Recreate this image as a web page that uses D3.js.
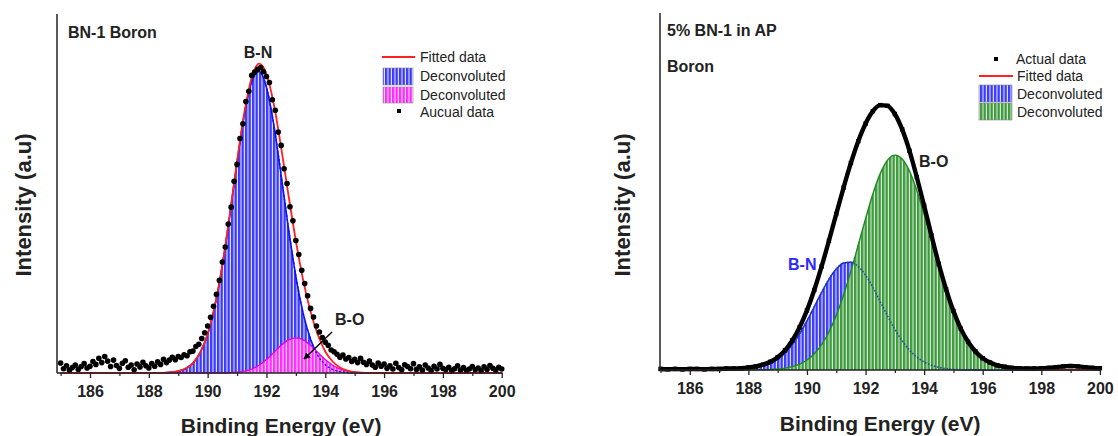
<!DOCTYPE html>
<html><head><meta charset="utf-8">
<script src="https://cdn.jsdelivr.net/npm/d3@7"></script>
<style>body{margin:0;background:#fff} svg{display:block} text{font-family:"Liberation Sans",Arial,sans-serif}</style>
</head><body><svg id="c" width="1118" height="436"></svg>
<script>
// ---------- shared axis ticks ----------
const majorTicks = [186,188,190,192,194,196,198,200];
const minorTicks = [185,187,189,191,193,195,197,199];

// ---------- LEFT panel: BN-1 Boron ----------
const leftDataStart = 185, leftDataStep = 0.1;
const leftActual = [
2.8,1.2,2.0,0.8,1.5,2.2,1.0,1.8,2.6,1.4,
1.9,3.2,2.4,4.1,2.9,4.6,3.3,1.8,3.6,2.1,
1.3,2.7,3.4,1.6,2.2,0.9,2.5,1.7,3.0,2.0,
1.4,2.6,1.9,3.1,2.4,3.8,2.9,3.6,4.4,3.7,
4.6,4.3,5.1,4.8,5.9,6.1,7.4,8.0,9.6,11.2,
13.1,15.5,18.6,21.9,25.8,30.9,35.1,41.5,46.2,53.4,
58.1,65.3,69.4,75.6,78.5,82.9,83.8,84.6,85.1,83.9,
82.6,80.9,76.1,73.2,67.1,63.4,56.9,52.8,46.3,42.4,
36.9,33.0,28.6,24.9,21.5,18.0,15.6,13.1,11.4,9.9,
8.6,7.7,6.4,5.9,5.2,4.4,5.0,3.9,4.3,3.2,
3.8,2.9,4.1,3.0,2.4,3.3,2.2,1.6,2.8,1.9,
2.5,1.3,2.0,1.1,2.7,1.5,0.9,2.3,1.8,1.2,
2.6,1.0,1.7,0.8,2.2,1.4,0.7,1.9,1.1,2.4,
1.3,0.9,1.6,0.6,1.2,2.0,0.8,1.5,0.7,1.1,
1.8,0.9,1.4,0.6,1.7,1.0,2.1,1.3,0.8,1.6,
1.1];
const leftCurveE = [185,188.5,188.75,189,189.25,189.5,189.75,190,190.25,190.5,190.75,191,191.25,191.5,191.75,192,192.25,192.5,192.75,193,193.25,193.5,193.75,194,194.25,194.5,194.75,195,195.25,195.5,200];
const leftBN = [0,0.06,0.19,0.50,1.23,2.77,5.73,10.8,18.9,30.0,43.8,58.7,72.1,81.2,84.0,79.6,69.2,55.1,40.3,27.0,16.6,9.4,4.85,2.30,1.0,0.40,0.15,0.05,0.01,0,0];
const leftBO = [0,0,0,0,0,0,0,0,0,0,0.07,0.21,0.51,1.12,2.17,3.74,5.70,7.70,9.23,9.8,9.23,7.70,5.70,3.74,2.17,1.12,0.51,0.21,0.07,0,0];
const leftFit = [0,0.06,0.19,0.50,1.23,2.77,5.73,10.8,18.9,30.0,43.9,58.9,72.6,82.3,86.2,83.3,74.9,62.8,49.5,36.8,25.8,17.1,10.6,6.0,3.2,1.5,0.66,0.26,0.08,0,0];
const leftLegend = ["Fitted data","Deconvoluted","Deconvoluted","Aucual data"];

// ---------- RIGHT panel: 5% BN-1 in AP ----------
const rightDataStart = 185, rightDataStep = 0.25;
const rightActual = [
0.3,0.2,0.3,0.2,0.3,0.3,0.2,0.3,0.3,0.4,
0.4,0.5,0.7,1.0,1.5,2.3,3.6,5.5,8.3,12.0,
16.7,22.4,29.0,36.2,43.7,51.1,58.0,64.1,69.0,72.5,
74.2,74.0,71.7,67.4,61.4,54.0,46.0,37.7,29.7,22.6,
16.5,11.6,7.9,5.2,3.3,2.1,1.3,0.9,0.6,0.5,
0.4,0.4,0.5,0.6,0.8,1.0,1.1,1.0,0.8,0.6,
0.5];
const rightCurveE = [185,187.5,187.75,188,188.25,188.5,188.75,189,189.25,189.5,189.75,190,190.25,190.5,190.75,191,191.25,191.5,191.75,192,192.25,192.5,192.75,193,193.25,193.5,193.75,194,194.25,194.5,194.75,195,195.25,195.5,195.75,196,196.25,196.5,196.75,197,197.25,197.5,200];
const rightBN = [0,0.07,0.16,0.31,0.59,1.08,1.86,3.06,4.79,7.15,10.17,13.76,17.73,21.75,25.42,28.28,29.96,30.2,29.0,26.56,23.14,19.19,15.16,11.40,8.17,5.57,3.61,2.24,1.32,0.74,0.39,0.20,0.09,0.04,0.02,0.01,0,0,0,0,0,0,0];
const rightBO = [0,0,0,0.01,0.03,0.06,0.13,0.26,0.51,0.94,1.66,2.81,4.57,7.13,10.66,15.3,21.0,27.7,35.0,42.4,49.3,55.0,58.8,60.2,59.1,55.7,50.3,43.6,36.2,28.8,22.0,16.1,11.3,7.63,4.92,3.05,1.81,1.03,0.56,0.29,0.15,0.07,0];
const rightFit = [0,0.07,0.16,0.32,0.62,1.14,1.99,3.32,5.30,8.09,11.83,16.57,22.30,28.88,36.08,43.58,50.96,57.9,64.0,68.96,72.44,74.19,73.96,71.6,67.27,61.27,53.91,45.84,37.52,29.54,22.39,16.3,11.39,7.67,4.94,3.06,1.81,1.03,0.56,0.29,0.15,0.07,0];
const rightLegend = ["Actual data","Fitted data","Deconvoluted","Deconvoluted"];

// ---------- drawing ----------
const FONT = '"Liberation Sans", Arial, sans-serif';
const svg = d3.select('#c');
const defs = svg.append('defs');
function hatch(id, bg, line) {
  const p = defs.append('pattern').attr('id', id).attr('patternUnits', 'userSpaceOnUse')
    .attr('width', 3.5).attr('height', 10);
  p.append('rect').attr('width', 3.5).attr('height', 10).attr('fill', bg);
  p.append('rect').attr('x', 2.4).attr('width', 1.1).attr('height', 10).attr('fill', line);
}
hatch('hBlue', '#3a3aff', '#e8e8ff');
hatch('hMag', '#ff2cff', '#ffe0ff');
hatch('hGreen', '#3f9a3f', '#d8ecd8');
defs.append('marker').attr('id', 'arr').attr('viewBox', '0 0 10 10').attr('refX', 9).attr('refY', 5)
  .attr('markerWidth', 5).attr('markerHeight', 5).attr('orient', 'auto')
  .append('path').attr('d', 'M0,0 L10,5 L0,10 z').attr('fill', '#000');

function zip(es, vs) { return es.map((e, i) => ({e, v: vs[i]})); }

function panel(o) {
  const x = d3.scaleLinear().domain([185, 200]).range(o.xr);
  const y = d3.scaleLinear().domain([0, 100]).range([o.y0, o.yTop]);
  const g = svg.append('g');
  const area = d3.area().x(d => x(d.e)).y0(y(0)).y1(d => y(d.v)).curve(d3.curveMonotoneX);
  const line = d3.line().x(d => x(d.e)).y(d => y(d.v)).curve(d3.curveMonotoneX);
  o.draw(g, x, y, area, line);

  // axes
  g.append('line').attr('x1', o.yAxisX).attr('x2', o.yAxisX).attr('y1', o.yTop).attr('y2', o.y0)
    .attr('stroke', '#222').attr('stroke-width', 1.5);
  g.append('line').attr('x1', o.yAxisX).attr('x2', x(200) + 1).attr('y1', o.y0).attr('y2', o.y0)
    .attr('stroke', '#222').attr('stroke-width', 1.5);
  const maj = g.append('g').attr('transform', `translate(0,${o.y0})`)
    .call(d3.axisBottom(x).tickValues(majorTicks).tickSize(5).tickPadding(8).tickSizeOuter(0).tickFormat(d3.format('d')));
  maj.select('.domain').remove();
  maj.attr('font-family', FONT);
  maj.selectAll('line').attr('stroke', '#222').attr('stroke-width', 1.3);
  maj.selectAll('text').attr('font-size', 16).attr('font-weight', 'bold').attr('fill', '#222');
  const mnr = g.append('g').attr('transform', `translate(0,${o.y0})`)
    .call(d3.axisBottom(x).tickValues(minorTicks).tickSize(3).tickSizeOuter(0).tickFormat(''));
  mnr.select('.domain').remove();
  mnr.selectAll('line').attr('stroke', '#222').attr('stroke-width', 1.2);

  g.append('text').attr('x', (x(185) + x(200)) / 2).attr('y', o.xTitleY).attr('text-anchor', 'middle')
    .attr('dominant-baseline', 'central').attr('font-size', 21).attr('font-weight', 'bold').attr('fill', '#222')
    .text('Binding Energy (eV)');
  g.append('text').attr('transform', `translate(${o.yTitleX},205) rotate(-90)`).attr('text-anchor', 'middle')
    .attr('dominant-baseline', 'central').attr('font-size', 22).attr('font-weight', 'bold').attr('fill', '#222')
    .text('Intensity (a.u)');
  return {x, y, g};
}

function legendText(g, tx, ty, s) {
  g.append('text').attr('x', tx).attr('y', ty).attr('dy', '0.35em').attr('font-size', 14)
    .attr('fill', '#222').text(s);
}

// LEFT
panel({
  xr: [60.6, 501.7], y0: 373, yTop: 14, yAxisX: 57, xTitleY: 425, yTitleX: 23,
  draw: (g, x, y, area, line) => {
    const bn = zip(leftCurveE, leftBN), bo = zip(leftCurveE, leftBO), fit = zip(leftCurveE, leftFit);
    g.append('path').attr('d', area(bn)).attr('fill', 'url(#hBlue)');
    g.append('path').attr('d', line(bn)).attr('fill', 'none').attr('stroke', '#1010ee').attr('stroke-width', 1.5);
    g.append('path').attr('d', area(bo)).attr('fill', 'url(#hMag)');
    g.append('path').attr('d', line(bo)).attr('fill', 'none').attr('stroke', '#e000e0').attr('stroke-width', 1.3);
    g.append('path').attr('d', line(bn)).attr('fill', 'none').attr('stroke', '#1010ee').attr('stroke-width', 1.4).attr('stroke-dasharray', '2,2');
    g.append('path').attr('d', line(fit)).attr('fill', 'none').attr('stroke', '#ff2020').attr('stroke-width', 1.8);
    g.selectAll('circle.pt').data(leftActual).enter().append('circle')
      .attr('cx', (d, i) => x(leftDataStart + i * leftDataStep)).attr('cy', d => y(d)).attr('r', 2.8).attr('fill', '#000');
    // labels
    g.append('text').attr('x', 68).attr('y', 38).attr('font-size', 16).attr('font-weight', 'bold').attr('fill', '#222').text('BN-1 Boron');
    g.append('text').attr('x', 258).attr('y', 58).attr('text-anchor', 'middle').attr('font-size', 16).attr('font-weight', 'bold').attr('fill', '#222').text('B-N');
    g.append('text').attr('x', 335).attr('y', 325).attr('font-size', 16).attr('font-weight', 'bold').attr('fill', '#222').text('B-O');
    g.append('line').attr('x1', 332).attr('y1', 332).attr('x2', 304).attr('y2', 359).attr('stroke', '#000').attr('stroke-width', 1.4).attr('marker-end', 'url(#arr)');
    // legend
    g.append('line').attr('x1', 382).attr('x2', 415).attr('y1', 57).attr('y2', 57).attr('stroke', '#ff2020').attr('stroke-width', 2);
    legendText(g, 420, 57, leftLegend[0]);
    g.append('rect').attr('x', 383).attr('y', 68).attr('width', 30).attr('height', 17).attr('fill', 'url(#hBlue)').attr('stroke', '#888').attr('stroke-width', 0.6);
    legendText(g, 420, 76, leftLegend[1]);
    g.append('rect').attr('x', 383).attr('y', 87).attr('width', 30).attr('height', 16).attr('fill', 'url(#hMag)').attr('stroke', '#888').attr('stroke-width', 0.6);
    legendText(g, 420, 95, leftLegend[2]);
    g.append('rect').attr('x', 397).attr('y', 109).attr('width', 4).attr('height', 4).attr('fill', '#000');
    legendText(g, 420, 112, leftLegend[3]);
  }
});

// RIGHT
panel({
  xr: [660.5, 1099.9], y0: 370, yTop: 13, yAxisX: 660, xTitleY: 423, yTitleX: 622,
  draw: (g, x, y, area, line) => {
    const bn = zip(rightCurveE, rightBN), bo = zip(rightCurveE, rightBO), fit = zip(rightCurveE, rightFit);
    const act = rightActual.map((v, i) => ({e: rightDataStart + i * rightDataStep, v}));
    g.append('path').attr('d', area(bn)).attr('fill', 'url(#hBlue)');
    g.append('path').attr('d', line(bn)).attr('fill', 'none').attr('stroke', '#1a1aee').attr('stroke-width', 1.4);
    g.append('path').attr('d', area(bo)).attr('fill', 'url(#hGreen)');
    g.append('path').attr('d', line(bo)).attr('fill', 'none').attr('stroke', '#1f8a1f').attr('stroke-width', 1.4);
    g.append('path').attr('d', line(bn)).attr('fill', 'none').attr('stroke', '#20509a').attr('stroke-width', 1.6).attr('stroke-dasharray', '1.6,1.6');
    g.append('path').attr('d', line(fit)).attr('fill', 'none').attr('stroke', '#ff2020').attr('stroke-width', 1.6);
    g.append('path').attr('d', line(act)).attr('fill', 'none').attr('stroke', '#000').attr('stroke-width', 4.4);
    g.selectAll('rect.pt').data(act).enter().append('rect')
      .attr('x', d => x(d.e) - 2.2).attr('y', d => y(d.v) - 2.2).attr('width', 4.4).attr('height', 4.4).attr('fill', '#000');
    // labels
    g.append('text').attr('x', 667).attr('y', 36).attr('font-size', 16).attr('font-weight', 'bold').attr('fill', '#222').text('5% BN-1 in AP');
    g.append('text').attr('x', 667).attr('y', 72).attr('font-size', 16).attr('font-weight', 'bold').attr('fill', '#222').text('Boron');
    g.append('text').attr('x', 919).attr('y', 167).attr('font-size', 16).attr('font-weight', 'bold').attr('fill', '#222').text('B-O');
    g.append('text').attr('x', 788).attr('y', 270).attr('font-size', 16).attr('font-weight', 'bold').attr('fill', '#2a2aff').text('B-N');
    // legend
    g.append('rect').attr('x', 994).attr('y', 57).attr('width', 4).attr('height', 4).attr('fill', '#000');
    legendText(g, 1016, 59, rightLegend[0]);
    g.append('line').attr('x1', 979).attr('x2', 1013).attr('y1', 76).attr('y2', 76).attr('stroke', '#ff2020').attr('stroke-width', 2);
    legendText(g, 1017, 76, rightLegend[1]);
    g.append('rect').attr('x', 979).attr('y', 85).attr('width', 33).attr('height', 17).attr('fill', 'url(#hBlue)').attr('stroke', '#888').attr('stroke-width', 0.6);
    legendText(g, 1017, 94, rightLegend[2]);
    g.append('rect').attr('x', 979).attr('y', 103).attr('width', 33).attr('height', 17).attr('fill', 'url(#hGreen)').attr('stroke', '#888').attr('stroke-width', 0.6);
    legendText(g, 1017, 112, rightLegend[3]);
  }
});
</script></body></html>
